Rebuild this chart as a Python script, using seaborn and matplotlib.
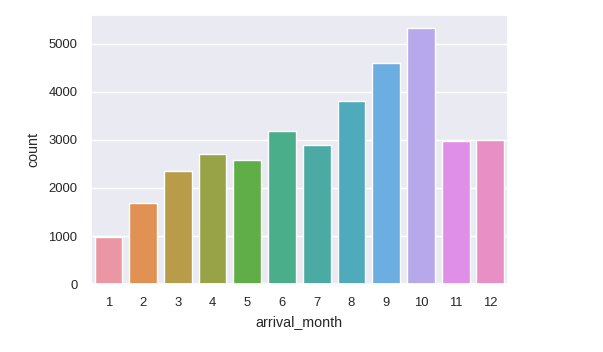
import matplotlib
matplotlib.use('Agg')
import matplotlib.pyplot as plt
import seaborn as sns
import pandas as pd

# ================= 数据 =================
months = [1, 2, 3, 4, 5, 6, 7, 8, 9, 10, 11, 12]
counts = [981, 1685, 2348, 2714, 2583, 3177, 2894, 3805, 4606, 5331, 2970, 3004]

sns.set_theme(style='darkgrid')
plt.rcParams['font.family'] = ['Liberation Sans', 'DejaVu Sans']

df = pd.DataFrame({'arrival_month': months, 'count': counts})
palette = sns.husl_palette(len(months), l=.7)

fig = plt.figure(figsize=(6.03, 3.52), dpi=100)
ax = fig.add_axes([0.151, 0.193, 0.691, 0.764])
sns.barplot(data=df, x='arrival_month', y='count', hue='arrival_month',
            palette=palette, legend=False, saturation=0.75, ax=ax)
ax.set_xlabel('arrival_month', fontsize=10.3, labelpad=4)
ax.set_ylabel('count', fontsize=10.3, labelpad=6)
ax.tick_params(axis='x', labelsize=9.4, length=0, pad=9.4, colors='.15')
ax.tick_params(axis='y', labelsize=9.4, length=0, pad=9.8, colors='.15')

fig.savefig('out.png', dpi=100)
